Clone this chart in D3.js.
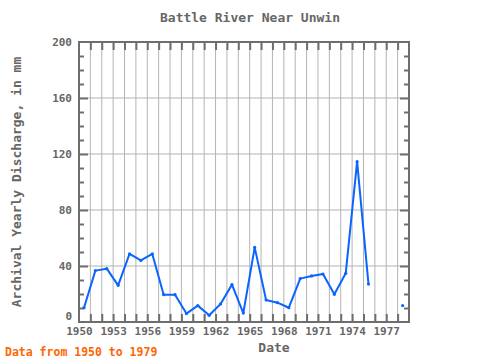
<!DOCTYPE html>
<html><head><meta charset="utf-8">
<script src="https://cdn.jsdelivr.net/npm/d3@7"></script>
<style>body{margin:0;background:#fff}svg{display:block}</style>
</head><body><svg id="c" width="480" height="360"></svg>
<script>
const years = [1950,1951,1952,1953,1954,1955,1956,1957,1958,1959,1960,1961,1962,1963,1964,1965,1966,1967,1968,1969,1970,1971,1972,1973,1974,1975,1976,1977,1978];
const discharge = [10.2,36.7,38.1,26.2,48.6,44,48.6,19.5,19.5,6,11.7,4.8,12.9,26.7,6.4,53.3,15.7,13.8,10.2,31,32.9,34.3,19.8,34.8,114.5,27.1,null,null,11.7];
const xTickLabels = [1950,1953,1956,1959,1962,1965,1968,1971,1974,1977];
const yTickLabels = [0,40,80,120,160,200];
const title = "Battle River Near Unwin";
const yLabel = "Archival Yearly Discharge, in mm";
const xLabel = "Date";
const note = "Data from 1950 to 1979";

const svg = d3.select("#c");
const L=79,R=409,T=42,B=322;
const x = d3.scaleLinear().domain([1950,1979]).range([L,R]);
const y = d3.scaleLinear().domain([0,200]).range([B,T]);
const font = "'DejaVu Sans Mono', monospace";
const axisCol = "#6e6e6e", gridCol = "#b4b4b4", textCol = "#666";

// grid
const g = svg.append("g");
g.selectAll(".vg").data(d3.range(1951,1979)).enter().append("line")
 .attr("x1",d=>x(d)).attr("x2",d=>x(d)).attr("y1",T).attr("y2",B)
 .attr("stroke",gridCol).attr("stroke-width",1);
g.selectAll(".hg").data([40,80,120,160]).enter().append("line")
 .attr("x1",L).attr("x2",R).attr("y1",d=>y(d)).attr("y2",d=>y(d))
 .attr("stroke",gridCol).attr("stroke-width",1);

// axes using d3 axis with inward ticks
const xt = d3.range(1951,1979);
svg.append("g").attr("transform",`translate(0,${B})`)
 .call(d3.axisBottom(x).tickValues(xt).tickSize(-8).tickFormat(""))
 .call(s=>{s.select(".domain").remove();s.selectAll("line").attr("stroke",axisCol).attr("stroke-width",2);});
svg.append("g").attr("transform",`translate(0,${T})`)
 .call(d3.axisTop(x).tickValues(xt).tickSize(-8).tickFormat(""))
 .call(s=>{s.select(".domain").remove();s.selectAll("line").attr("stroke",axisCol).attr("stroke-width",2);});
const yMinor = d3.range(10,200,10).filter(v=>v%40!==0);
const yMajor = [40,80,120,160];
[[d3.axisLeft,L,-1],[d3.axisRight,R,1]].forEach(([ax,px])=>{
  svg.append("g").attr("transform",`translate(${px},0)`)
   .call(ax(y).tickValues(yMinor).tickSize(-5).tickFormat(""))
   .call(s=>{s.select(".domain").remove();s.selectAll("line").attr("stroke",axisCol).attr("stroke-width",2);});
  svg.append("g").attr("transform",`translate(${px},0)`)
   .call(ax(y).tickValues(yMajor).tickSize(-9).tickFormat(""))
   .call(s=>{s.select(".domain").remove();s.selectAll("line").attr("stroke",axisCol).attr("stroke-width",2);});
});
svg.append("rect").attr("x",L).attr("y",T).attr("width",R-L).attr("height",B-T)
 .attr("fill","none").attr("stroke",axisCol).attr("stroke-width",2);

// tick labels
svg.selectAll(".xl").data(xTickLabels).enter().append("text")
 .attr("x",d=>x(d)+0.5).attr("y",335).attr("text-anchor","middle")
 .attr("font-family",font).attr("font-size",11).attr("font-weight","bold").attr("fill",textCol).text(d=>d);
svg.selectAll(".yl").data(yTickLabels).enter().append("text")
 .attr("x",72).attr("y",d=>(d===0?y(d)-6:y(d))+4).attr("text-anchor","end")
 .attr("font-family",font).attr("font-size",11).attr("font-weight","bold").attr("fill",textCol).text(d=>d);

// data line
const pts = years.map((yr,i)=>({t:yr+0.44,v:discharge[i]}));
const line = d3.line().defined(d=>d.v!=null).x(d=>x(d.t)).y(d=>y(d.v));
svg.append("path").datum(pts).attr("d",line).attr("fill","none")
 .attr("stroke","#0a64ff").attr("stroke-width",2).attr("stroke-linejoin","round");
svg.selectAll(".pt").data(pts.filter(d=>d.v!=null)).enter().append("circle")
 .attr("cx",d=>x(d.t)).attr("cy",d=>y(d.v)).attr("r",1.6).attr("fill","#0a64ff");

// texts
svg.append("text").attr("x",250).attr("y",22).attr("text-anchor","middle")
 .attr("font-family",font).attr("font-size",13).attr("font-weight","bold").attr("fill",textCol).text(title);
svg.append("text").attr("transform","translate(21,182) rotate(-90)").attr("text-anchor","middle")
 .attr("font-family",font).attr("font-size",13).attr("font-weight","bold").attr("fill",textCol).text(yLabel);
svg.append("text").attr("x",274).attr("y",352).attr("text-anchor","middle")
 .attr("font-family",font).attr("font-size",13).attr("font-weight","bold").attr("fill",textCol).text(xLabel);
svg.append("text").attr("x",5).attr("y",356)
 .attr("font-family",font).attr("font-size",11.5).attr("font-weight","bold").attr("fill","#ff6600").text(note);
</script></body></html>
